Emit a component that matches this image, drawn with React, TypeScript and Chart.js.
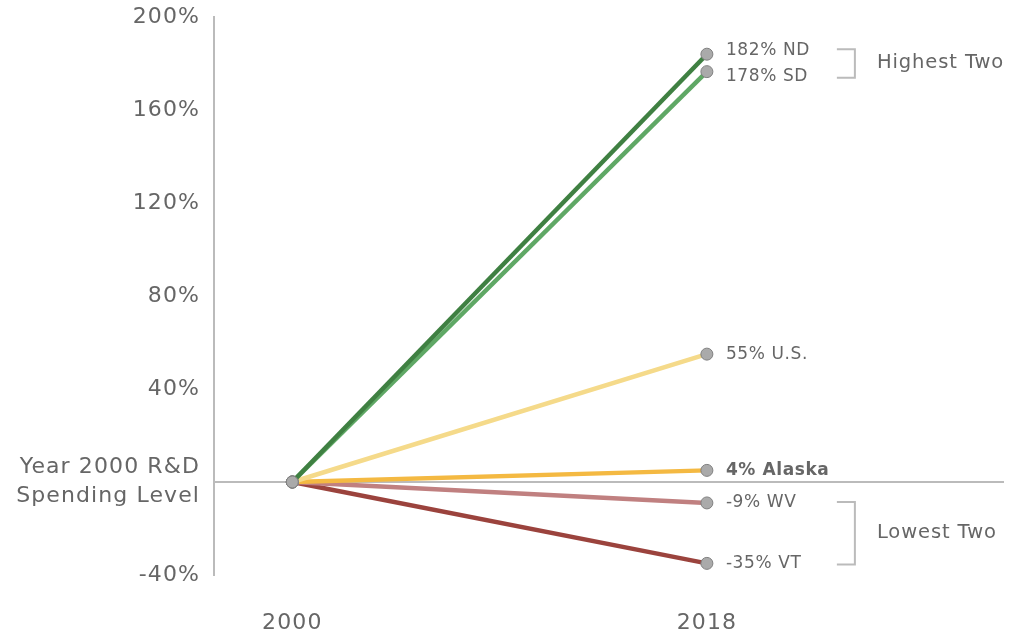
import { useEffect, useRef } from "react";
import { Chart, registerables } from "chart.js";

Chart.register(...registerables);

// ---- data ----
const years = [2000, 2018];
const seriesNames = ["ND", "SD", "U.S.", "Alaska", "WV", "VT"];
const startValues = [0, 0, 0, 0, 0, 0];
const endValues = [184, 176.5, 55, 5, -9, -35];
const changeLabels = ["182% ND", "178% SD", "55% U.S.", "4% Alaska", "-9% WV", "-35% VT"];
const boldLabel = [false, false, false, true, false, false];
const yTicks = [-40, 0, 40, 80, 120, 160, 200];
const zeroTickLabel = ["Year 2000 R&D", "Spending Level"];
const groupLabels = ["Highest Two", "Lowest Two"];
const groupMembers = [
  [0, 1],
  [4, 5],
];

// ---- styles ----
const colors = ["#3f8042", "#5fa865", "#f5da8a", "#f4b942", "#c08080", "#9b433d"];
const labelNudge = [-4, 5, 0, 0, 0, 0];
const FONT = "'DejaVu Sans', sans-serif";
const TEXT = "#666666";
const RULE = "#bbbbbb";

const spacingPlugin = {
  id: "spacing",
  beforeDraw(chart: any) {
    chart.ctx.letterSpacing = "1.1px";
  },
};

const labelPlugin = {
  id: "endLabels",
  afterDatasetsDraw(chart: any) {
    const ctx = chart.ctx;
    ctx.save();
    ctx.textBaseline = "middle";
    ctx.textAlign = "left";
    const ys: number[] = [];
    let px = 0;
    chart.data.datasets.forEach((_: any, i: number) => {
      const meta = chart.getDatasetMeta(i);
      const pt = meta.data[1];
      px = pt.x;
      const y = pt.y + labelNudge[i];
      ys[i] = y;
      ctx.letterSpacing = "0.6px";
      ctx.font = `${boldLabel[i] ? "bold " : ""}17px ${FONT}`;
      ctx.fillStyle = TEXT;
      ctx.fillText(changeLabels[i], pt.x + 19, y);
    });
    // brackets
    ctx.strokeStyle = RULE;
    ctx.lineWidth = 2;
    groupMembers.forEach((m, g) => {
      const top = ys[m[0]] - 1;
      const bot = ys[m[1]] + 1;
      const x0 = px + 130;
      const x1 = px + 148;
      ctx.beginPath();
      ctx.moveTo(x0, top);
      ctx.lineTo(x1, top);
      ctx.lineTo(x1, bot);
      ctx.lineTo(x0, bot);
      ctx.stroke();
      ctx.letterSpacing = "0.9px";
      ctx.font = `19.5px ${FONT}`;
      ctx.fillStyle = TEXT;
      ctx.fillText(groupLabels[g], px + 170, (top + bot) / 2);
    });
    ctx.restore();
  },
};

export default function App() {
  const ref = useRef<HTMLCanvasElement | null>(null);
  useEffect(() => {
    if (!ref.current) return;
    const chart = new Chart(ref.current, {
      type: "line",
      data: {
        datasets: seriesNames.map((name, i) => ({
          label: name,
          data: [
            { x: years[0], y: startValues[i] },
            { x: years[1], y: endValues[i] },
          ],
          borderColor: colors[i],
          borderWidth: 4.5,
          pointRadius: 6,
          pointBackgroundColor: "#aaaaaa",
          pointBorderColor: "#808080",
          pointBorderWidth: 1,
          tension: 0,
        })),
      },
      options: {
        animation: false,
        responsive: true,
        maintainAspectRatio: false,
        layout: { padding: { top: 17, right: 17, left: 0, bottom: 0 } },
        plugins: { legend: { display: false }, tooltip: { enabled: false } },
        scales: {
          x: {
            type: "linear",
            min: 1996.6,
            max: 2030.9,
            afterBuildTicks: (s: any) => {
              s.ticks = years.map((v) => ({ value: v }));
            },
            afterFit: (s: any) => {
              s.height = 62;
              s.paddingLeft = 0;
              s.paddingRight = 0;
            },
            ticks: {
              callback: (v: any) => String(v),
              color: TEXT,
              font: { family: FONT, size: 22 },
              padding: 27,
              maxRotation: 0,
            },
            grid: { display: false },
            border: { display: false },
          },
          y: {
            min: -40,
            max: 200,
            afterBuildTicks: (s: any) => {
              s.ticks = yTicks.map((v) => ({ value: v }));
            },
            afterFit: (s: any) => {
              s.width = 214;
              s.paddingTop = 0;
              s.paddingBottom = 0;
            },
            ticks: {
              callback: (v: any) => (v === 0 ? zeroTickLabel : `${v}%`),
              color: TEXT,
              font: { family: FONT, size: 22, lineHeight: 1.3 },
              padding: 14,
            },
            grid: {
              drawTicks: false,
              color: (c: any) => (c.tick && c.tick.value === 0 ? RULE : "rgba(0,0,0,0)"),
              lineWidth: 2,
            },
            border: { color: RULE, width: 2 },
          },
        },
      },
      plugins: [spacingPlugin, labelPlugin],
    });
    return () => chart.destroy();
  }, []);
  return (
    <div style={{ position: "fixed", left: 0, top: 0, width: 1021, height: 637, background: "#fff" }}>
      <canvas ref={ref} />
    </div>
  );
}
